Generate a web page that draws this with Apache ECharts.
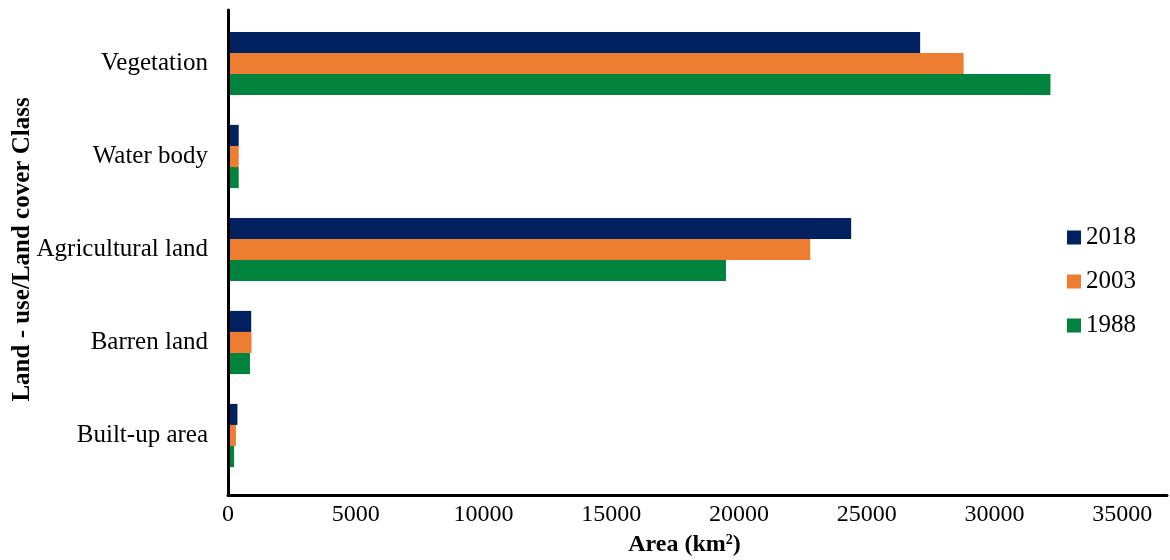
<!DOCTYPE html>
<html>
<head>
<meta charset="utf-8">
<script src="https://cdn.jsdelivr.net/npm/echarts@6/dist/echarts.min.js"></script>
<style>html,body{margin:0;padding:0;background:#fff}#c{width:1170px;height:560px}</style>
</head>
<body>
<div id="c"></div>
<script>
// Data (km²), categories listed bottom-to-top as on the y axis
const categories = ['Built-up area', 'Barren land', 'Agricultural land', 'Water body', 'Vegetation'];
const seriesNames = ['2018', '2003', '1988'];
const values2018 = [330, 870, 24350, 380, 27050];
const values2003 = [270, 880, 22750, 380, 28750];
const values1988 = [200, 820, 19450, 380, 32150];
const xTicks = [0, 5000, 10000, 15000, 20000, 25000, 30000, 35000];

const colors = ['#002060', '#ED7D31', '#00843D'];
const font = 'Liberation Serif';
const xMax = 36750;

const chart = echarts.init(document.getElementById('c'), null, {renderer: 'canvas'});
const dataSets = [values2018, values2003, values1988];

chart.setOption({
  backgroundColor: '#ffffff',
  animation: false,
  grid: [
    {left: 228, right: 3, top: 10, bottom: 65, containLabel: false, outerBoundsMode: 'none'},
    {left: 229, right: 3, top: 17, bottom: 78, containLabel: false, outerBoundsMode: 'none'}
  ],
  legend: {
    orient: 'vertical',
    left: 1067,
    top: 225,
    padding: 0,
    itemGap: 19,
    itemWidth: 14,
    itemHeight: 14,
    icon: 'rect',
    data: seriesNames,
    textStyle: {fontFamily: font, fontSize: 25, color: '#000'}
  },
  xAxis: [
    {
      gridIndex: 0, type: 'value', min: 0, max: xMax, interval: 5000,
      z: 10,
      axisLine: {show: true, lineStyle: {color: '#000', width: 3}},
      axisTick: {show: false},
      splitLine: {show: false},
      axisLabel: {
        margin: 8, fontFamily: font, fontSize: 24, color: '#000',
        showMaxLabel: false,
        formatter: v => xTicks.indexOf(v) >= 0 ? String(v) : ''
      },
      name: 'Area (km{sup|2})',
      nameLocation: 'middle',
      nameGap: 38,
      nameMoveOverlap: false,
      nameTextStyle: {
        fontFamily: font, fontSize: 24, fontWeight: 'bold', color: '#000',
        padding: [0, 26, 0, 0],
        rich: {sup: {fontFamily: font, fontSize: 14, fontWeight: 'bold', color: '#000', verticalAlign: 'top', padding: [0, 0, 10, 0]}}
      }
    },
    {
      gridIndex: 1, type: 'value', min: 0, max: xMax - 39, interval: 5000,
      show: false
    }
  ],
  yAxis: [
    {
      gridIndex: 0, type: 'value', min: 0, max: 1,
      z: 10,
      axisLine: {show: true, lineStyle: {color: '#000', width: 3}},
      axisTick: {show: false}, axisLabel: {show: false}, splitLine: {show: false}
    },
    {
      gridIndex: 1, type: 'category', data: categories,
      axisLine: {show: false}, axisTick: {show: false}, splitLine: {show: false},
      axisLabel: {margin: 21, fontFamily: font, fontSize: 25, color: '#000'},
      name: 'Land - use/Land cover Class',
      nameLocation: 'middle',
      nameGap: 194,
      nameRotate: 90,
      nameMoveOverlap: false,
      nameTextStyle: {fontFamily: font, fontSize: 25, fontWeight: 'bold', color: '#000'}
    }
  ],
  series: seriesNames.map((n, i) => ({
    name: n,
    type: 'bar',
    xAxisIndex: 1,
    yAxisIndex: 1,
    data: dataSets[i],
    barGap: '0%',
    barCategoryGap: '32%',
    itemStyle: {color: colors[i]}
  }))
});
</script>
</body>
</html>
